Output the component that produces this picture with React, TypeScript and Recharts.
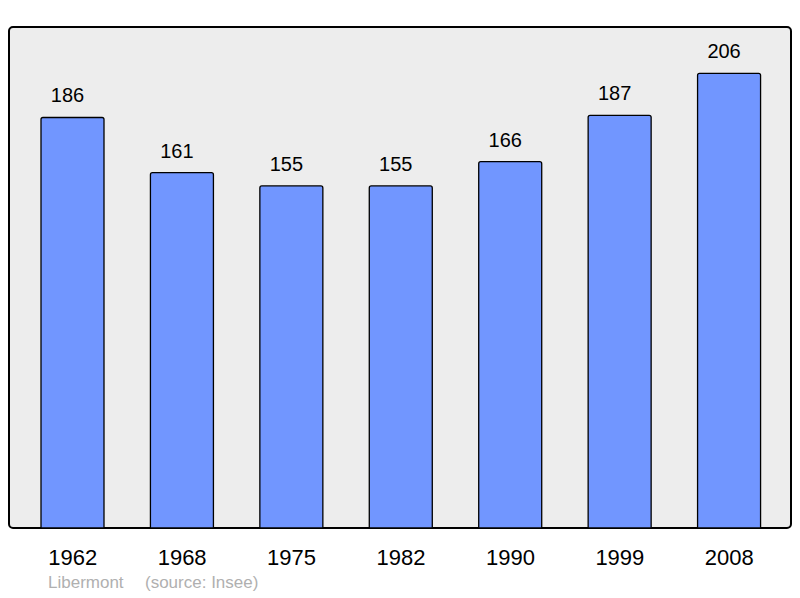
import React from 'react';
import { BarChart, Bar, XAxis, YAxis, LabelList, usePlotArea } from 'recharts';

const years = ['1962', '1968', '1975', '1982', '1990', '1999', '2008'];
const population = [186, 161, 155, 155, 166, 187, 206];
const yDomain: [number, number] = [0, 227];
const commune = 'Libermont';
const source = '(source: Insee)';

const data = years.map((y, i) => ({ year: y, pop: population[i] }));

const FONT = '"Liberation Sans", Arial, sans-serif';

const PlotFrame = () => {
  const area = usePlotArea();
  if (!area) return null;
  return (
    <rect x={area.x} y={area.y} width={area.width} height={area.height} rx={4} ry={4}
      fill="#ededed" stroke="#000" strokeWidth={2} />
  );
};

export default function App() {
  return (
    <div style={{ position: 'absolute', left: 0, top: 0, width: 800, height: 598, background: '#fff', fontFamily: FONT }}>
      <BarChart width={800} height={598} data={data}
        margin={{ top: 27, right: 9, bottom: 40, left: 9 }}>
        <PlotFrame />
        <YAxis hide domain={yDomain} type="number" allowDataOverflow />
        <XAxis dataKey="year" height={30} axisLine={false} tickLine={false} tickSize={0} tickMargin={21}
          padding={{ left: 9, right: 7 }} interval={0}
          tick={{ fill: '#000', fontSize: 22, fontFamily: FONT }} />
        <Bar dataKey="pop" fill="#7196ff" stroke="#000" strokeWidth={1.3} barSize={63}
          radius={[2, 2, 0, 0]} isAnimationActive={false}>
          <LabelList dataKey="pop" position="top" offset={15} dx={-5}
            style={{ fill: '#000', fontSize: 20, fontFamily: FONT }} />
        </Bar>
      </BarChart>
      <div style={{ position: 'absolute', left: 48, top: 573, fontSize: 17, color: '#b0b0b0', whiteSpace: 'nowrap', lineHeight: '20px' }}>
        <span>{commune}</span>
        <span style={{ position: 'absolute', left: 97 }}>{source}</span>
      </div>
    </div>
  );
}
